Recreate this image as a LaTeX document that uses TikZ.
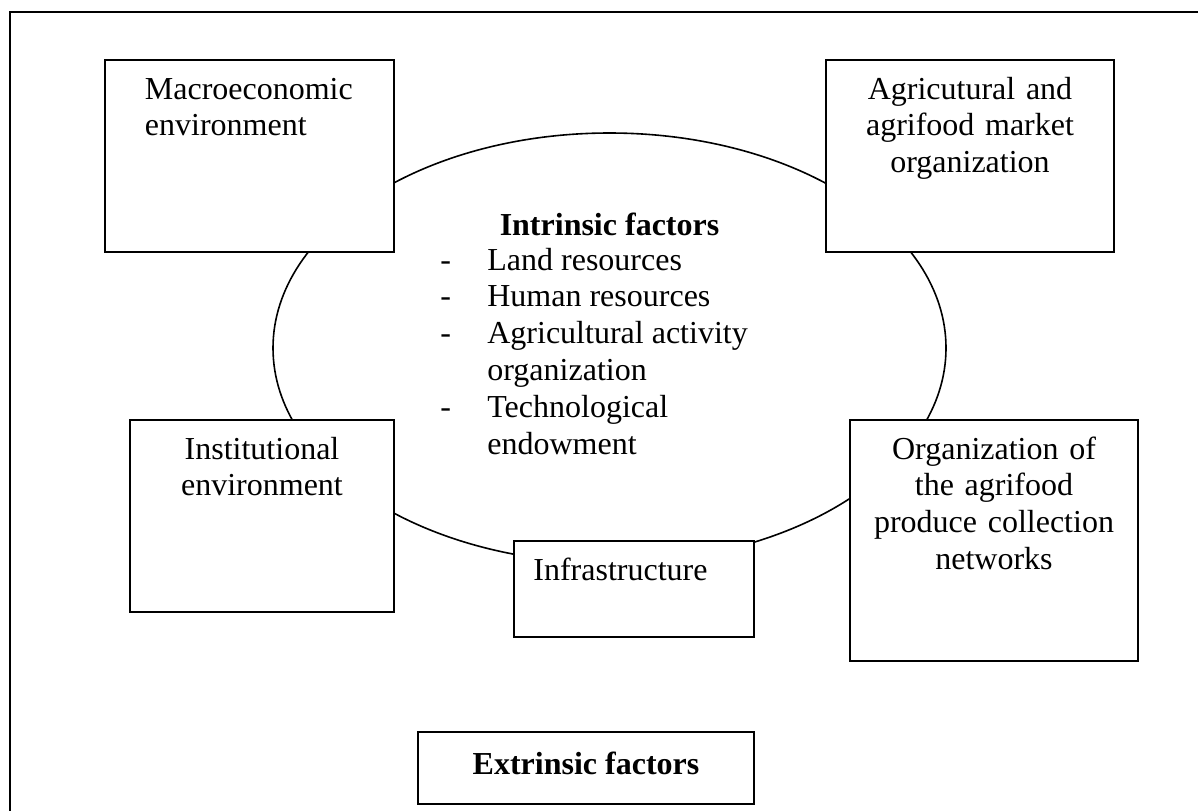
\documentclass[tikz,border=0pt]{standalone}
\usepackage{fontspec}
\setmainfont{Liberation Serif}
\usepackage{tikz}
\usetikzlibrary{calc}
\usetikzlibrary{shapes.geometric}

\begin{document}
\begin{tikzpicture}[x=0.5pt,y=-0.5pt,
box/.style={rectangle,draw,line width=1pt,fill=white,inner sep=0},
txt/.style={inner sep=0,font=\fontsize{16}{18.4}\selectfont},
]
\useasboundingbox (0,0) rectangle (1198,810);
% outer frame, runs off the page at right and bottom
\draw[line width=1pt] (10,830) -- (10,12) -- (1220,12);
% intrinsic factors
\node (intr)[draw,ellipse,line width=0.8pt,inner sep=0,
  minimum width=336.5pt,minimum height=215pt] at (609.5,348) {};
\node (intrhead)[txt,font=\fontsize{16}{18.4}\selectfont\bfseries,anchor=base]
  at ($(intr.center)+(0,-113)$) {Intrinsic factors};
\node (intrlist)[txt,anchor=base west] at ($(intr.center)+(-169.5,-78)$)
  {\begin{tabular}[t]{@{}p{23.5pt}@{}l@{}}
  - & Land resources\\
  - & Human resources\\
  - & Agricultural activity\\
    & organization\\
  - & Technological\\
    & endowment
  \end{tabular}};
% extrinsic factors
\node (macro)[box,minimum width=144.5pt,minimum height=96pt] at (249.5,156) {};
\node (macrotxt)[txt,text width=125pt,align=left,anchor=base west]
  at ($(macro.north west)+(40.5,40)$) {Macroeconomic\\environment};
\node (agri)[box,minimum width=144pt,minimum height=96pt] at (970,156) {};
\node (agritxt)[txt,text width=140pt,align=center,anchor=base]
  at ($(agri.north)+(0,40)$) {Agricutural and\\agrifood market\\organization};
\node (inst)[box,minimum width=132pt,minimum height=96pt] at (262,516) {};
\node (insttxt)[txt,text width=128pt,align=center,anchor=base]
  at ($(inst.north)+(0,40)$) {Institutional\\environment};
\node (org)[box,minimum width=144pt,minimum height=120.5pt] at (994,540.5) {};
\node (orgtxt)[txt,text width=140pt,align=center,anchor=base]
  at ($(org.north)+(0,40)$) {Organization of\\the agrifood\\produce collection\\networks};
\node (infra)[box,minimum width=120pt,minimum height=48pt] at (634,589) {};
\node (infratxt)[txt,anchor=base west]
  at ($(infra.north west)+(20,40)$) {Infrastructure};
\node (extr)[box,minimum width=168pt,minimum height=36pt] at (586,768) {};
\node (extrtxt)[txt,font=\fontsize{16}{18.4}\selectfont\bfseries,anchor=base]
  at ($(extr.north)+(0,43)$) {Extrinsic factors};
\end{tikzpicture}
\end{document}
